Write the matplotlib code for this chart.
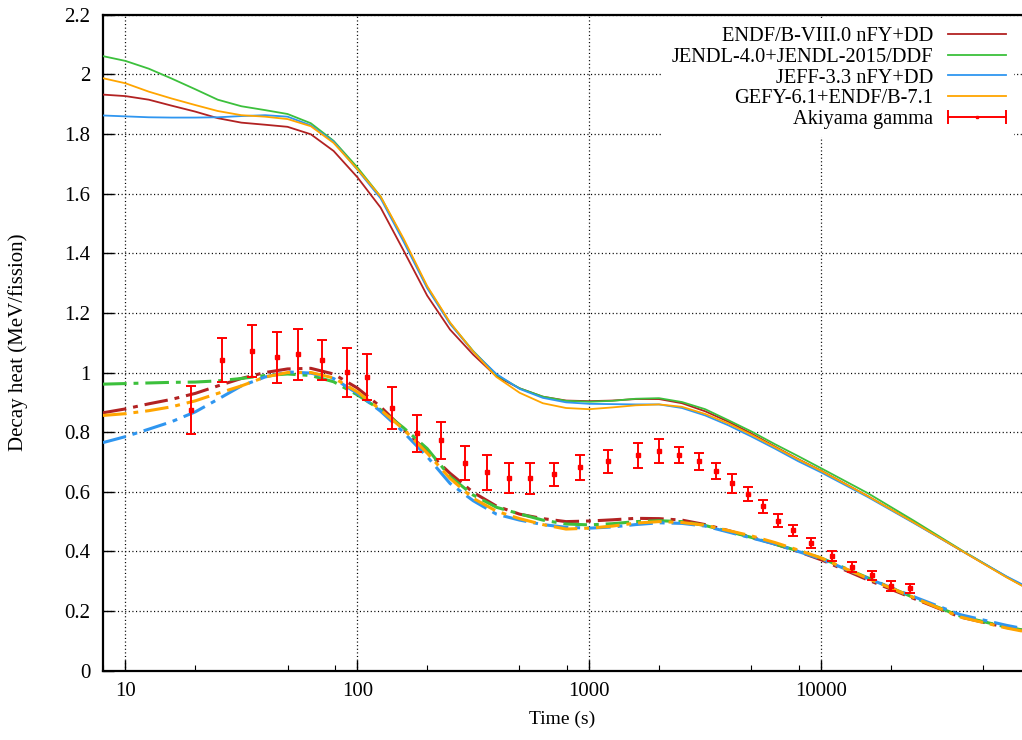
import matplotlib
matplotlib.use("Agg")
import matplotlib.pyplot as plt
from matplotlib.lines import Line2D
from matplotlib.legend_handler import HandlerLine2D, HandlerTuple
from matplotlib.ticker import LogLocator, FixedLocator, NullFormatter, FuncFormatter

# ---------------- data ----------------
time_grid = [8, 10, 12.6, 15.8, 20, 25, 31.6, 40, 50, 63, 79, 100, 126, 158, 200, 251,
             316, 398, 501, 631, 794, 1000, 1259, 1585, 2000, 2512, 3162, 3981, 5012,
             6310, 7943, 10000, 15849, 25119, 39811, 63096, 73500]

# total decay heat (solid)
endf_total = [1.932, 1.927, 1.915, 1.895, 1.875, 1.853, 1.838, 1.831, 1.824, 1.799, 1.743,
              1.655, 1.553, 1.41, 1.258, 1.144, 1.06, 0.987, 0.947, 0.919, 0.906, 0.904,
              0.906, 0.911, 0.911, 0.897, 0.870, 0.835, 0.795, 0.752, 0.710, 0.671, 0.586,
              0.497, 0.405, 0.314, 0.286]
jendl_total = [2.061, 2.045, 2.019, 1.986, 1.950, 1.915, 1.893, 1.880, 1.867, 1.836, 1.777,
               1.688, 1.590, 1.445, 1.287, 1.166, 1.072, 0.992, 0.947, 0.919, 0.905, 0.902,
               0.905, 0.912, 0.914, 0.901, 0.877, 0.840, 0.802, 0.760, 0.720, 0.679, 0.596,
               0.503, 0.407, 0.315, 0.287]
jeff_total = [1.862, 1.859, 1.856, 1.855, 1.855, 1.856, 1.860, 1.863, 1.858, 1.829, 1.774,
              1.680, 1.584, 1.44, 1.283, 1.163, 1.070, 0.995, 0.945, 0.915, 0.900, 0.895,
              0.894, 0.893, 0.893, 0.881, 0.856, 0.823, 0.785, 0.745, 0.703, 0.665, 0.583,
              0.495, 0.405, 0.316, 0.290]
gefy_total = [1.987, 1.970, 1.942, 1.919, 1.897, 1.877, 1.863, 1.858, 1.850, 1.826, 1.770,
              1.682, 1.590, 1.45, 1.290, 1.168, 1.070, 0.985, 0.932, 0.897, 0.881, 0.877,
              0.883, 0.890, 0.893, 0.885, 0.861, 0.829, 0.791, 0.750, 0.709, 0.670, 0.586,
              0.497, 0.405, 0.313, 0.285]

# gamma component (dash-dot)
endf_gamma = [0.865, 0.878, 0.895, 0.910, 0.930, 0.955, 0.980, 1.000, 1.012, 1.014, 0.995,
              0.948, 0.885, 0.810, 0.735, 0.662, 0.598, 0.552, 0.525, 0.510, 0.500, 0.502,
              0.506, 0.511, 0.510, 0.505, 0.490, 0.470, 0.447, 0.425, 0.400, 0.372, 0.305,
              0.242, 0.180, 0.145, 0.136]
jendl_gamma = [0.961, 0.963, 0.965, 0.967, 0.968, 0.972, 0.980, 0.990, 0.995, 0.990, 0.969,
               0.925, 0.875, 0.815, 0.745, 0.651, 0.589, 0.548, 0.526, 0.505, 0.492, 0.489,
               0.493, 0.500, 0.503, 0.500, 0.487, 0.467, 0.447, 0.425, 0.402, 0.378, 0.312,
               0.245, 0.183, 0.146, 0.137]
jeff_gamma = [0.765, 0.785, 0.810, 0.835, 0.868, 0.910, 0.955, 0.985, 1.002, 0.998, 0.980,
              0.930, 0.870, 0.800, 0.718, 0.628, 0.570, 0.525, 0.505, 0.490, 0.481, 0.478,
              0.482, 0.490, 0.496, 0.494, 0.485, 0.465, 0.445, 0.425, 0.400, 0.375, 0.310,
              0.248, 0.188, 0.152, 0.142]
gefy_gamma = [0.856, 0.862, 0.872, 0.885, 0.905, 0.930, 0.955, 0.985, 1.000, 1.000, 0.982,
              0.935, 0.875, 0.810, 0.730, 0.645, 0.578, 0.535, 0.510, 0.490, 0.475, 0.478,
              0.485, 0.495, 0.500, 0.497, 0.488, 0.470, 0.452, 0.430, 0.405, 0.378, 0.310,
              0.245, 0.180, 0.143, 0.133]

# Akiyama gamma measurement
exp_time = [19.1, 26.0, 35.2, 45.1, 55.3, 70.2, 90.3, 110.4, 141.2, 180.9, 230.5, 291.7,
            361.6, 453, 553, 702, 908, 1204, 1616, 2009, 2449, 2965, 3509, 4113, 4833,
            5623, 6546, 7551, 9078, 11120, 13650, 16640, 20090, 24270]
exp_value = [0.874, 1.042, 1.071, 1.051, 1.061, 1.042, 1.001, 0.985, 0.880, 0.796, 0.773,
             0.696, 0.665, 0.645, 0.645, 0.659, 0.682, 0.702, 0.722, 0.736, 0.722, 0.702,
             0.669, 0.628, 0.593, 0.551, 0.503, 0.471, 0.427, 0.384, 0.347, 0.320, 0.283,
             0.276]
exp_error = [0.080, 0.074, 0.087, 0.086, 0.086, 0.068, 0.082, 0.076, 0.070, 0.062, 0.062,
             0.058, 0.058, 0.050, 0.053, 0.038, 0.042, 0.039, 0.042, 0.041, 0.027, 0.028,
             0.026, 0.033, 0.024, 0.022, 0.021, 0.019, 0.017, 0.017, 0.016, 0.015, 0.017,
             0.015]

labels = ["ENDF/B-VIII.0 nFY+DD", "JENDL-4.0+JENDL-2015/DDF", "JEFF-3.3 nFY+DD",
          "GEFY-6.1+ENDF/B-7.1"]
exp_label = "Akiyama gamma"
colors = ["#b22222", "#3cc03c", "#2f96f0", "#ffa500"]

x_major = [10, 100, 1000, 10000]
y_major = [0, 0.2, 0.4, 0.6, 0.8, 1.0, 1.2, 1.4, 1.6, 1.8, 2.0, 2.2]

# ---------------- style ----------------
plt.rcParams['font.family'] = ['Liberation Serif', 'DejaVu Serif']
plt.rcParams['font.size'] = 14
plt.rcParams['lines.scale_dashes'] = False

fig = plt.figure(figsize=(10.22, 7.40), dpi=100)
W, H = 1022.0, 740.0
left, right, top, bottom = 103, 1022, 14.7, 670.7
ax = fig.add_axes([left / W, (H - bottom) / H, (right - left) / W, (bottom - top) / H])

totals = [endf_total, jendl_total, jeff_total, gefy_total]
gammas = [endf_gamma, jendl_gamma, jeff_gamma, gefy_gamma]

dashdot = (0, (17, 5, 3.5, 5))
for tot, lab, c in zip(totals, labels, colors):
    ax.plot(time_grid, tot, color=c, lw=1.3, label=lab, zorder=3)
for gam, c in zip(gammas, colors):
    ax.plot(time_grid, gam, color=c, lw=2.2, linestyle=dashdot, zorder=3)

ax.errorbar(exp_time, exp_value, yerr=exp_error, fmt='s', ms=2.8, color='#ff0000',
            ecolor='#ff0000', elinewidth=1.4, capsize=3.6, capthick=1.4, zorder=5)

ax.set_xscale('log')
ax.set_xlim(8, 73500)
ax.set_ylim(0, 2.2)

ax.xaxis.set_major_locator(FixedLocator(x_major))
ax.xaxis.set_major_formatter(FuncFormatter(lambda v, p: "%d" % round(v)))
ax.xaxis.set_minor_locator(LogLocator(base=10, subs=[2, 5, 8]))
ax.xaxis.set_minor_formatter(NullFormatter())
ax.yaxis.set_major_locator(FixedLocator(y_major))
ax.yaxis.set_major_formatter(FuncFormatter(lambda v, p: "%g" % round(v, 1)))

ax.tick_params(axis='both', which='major', direction='in', length=8, width=1.0,
               color='black', labelsize=15)
ax.tick_params(axis='x', which='major', pad=8)
ax.tick_params(axis='y', which='major', pad=9)
ax.tick_params(axis='x', which='minor', direction='in', length=4, width=0.8)

for s in ['left', 'bottom', 'top']:
    ax.spines[s].set_linewidth(1.6)
ax.spines['right'].set_visible(False)

ax.grid(True, which='major', color='black', linestyle=(0, (0.8, 1.8)), linewidth=0.9,
        zorder=1)
ax.set_axisbelow(True)

ax.set_xlabel("Time (s)", fontsize=14, labelpad=7)
ax.set_ylabel("Decay heat (MeV/fission)", fontsize=15, labelpad=26)

# legend
handles, hlabels = ax.get_legend_handles_labels()
err_proxy = Line2D([], [], color='#ff0000', lw=1.4, marker='|', markersize=10,
                   markeredgewidth=1.4)
dot_proxy = Line2D([], [], color='#ff0000', lw=0, marker='s', markersize=2)
handles = handles[:4] + [(err_proxy, dot_proxy)]
hlabels = hlabels[:4] + [exp_label]
leg = ax.legend(handles, hlabels, loc='upper right',
                bbox_to_anchor=((1014 - left) / (right - left), 1.0 - 4.0 / (bottom - top)),
                borderaxespad=0.0,
                markerfirst=False, frameon=True, fancybox=False, framealpha=1.0,
                edgecolor='white', facecolor='white', fontsize=14.7, handlelength=2.84,
                handletextpad=0.73, labelspacing=0.07, borderpad=0.4,
                handler_map={err_proxy: HandlerLine2D(numpoints=2, marker_pad=0),
                             dot_proxy: HandlerLine2D(numpoints=1),
                             tuple: HandlerTuple(ndivide=1, pad=0)})
leg.get_frame().set_linewidth(0)
leg.set_zorder(6)

fig.savefig("out.png", dpi=100)
